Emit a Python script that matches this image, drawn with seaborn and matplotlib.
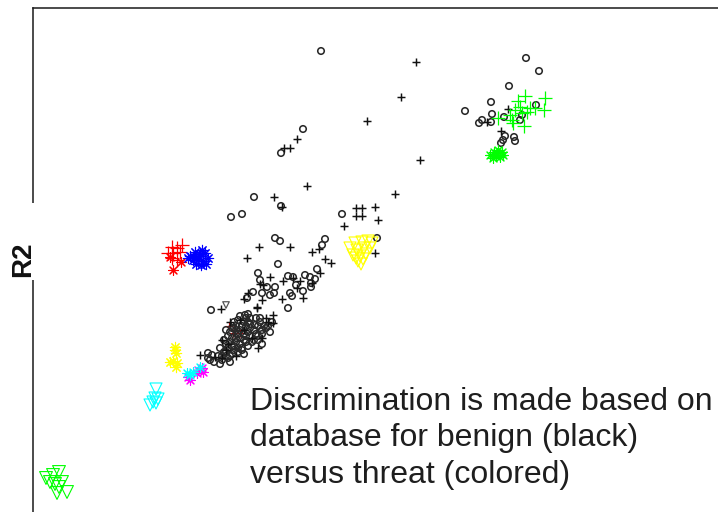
import matplotlib
matplotlib.use("Agg")
import matplotlib.pyplot as plt
from matplotlib.patches import Rectangle
import seaborn as sns
import pandas as pd

# ---- discriminant scores (R1, R2) ----
benign_circle_r1 = [2.88, 4.93, 5.06, 4.76, 4.58, 4.32, 4.59, 4.71, 4.49, 4.46, 4.58, 4.89, 4.87,
                    5.03, 4.72, 4.81, 4.82, 4.70, 4.68, 2.70, 2.48, 2.21, 1.98, 2.09, 2.48, 3.09,
                    3.44, 2.42, 2.47, 2.92, 2.89, 2.45, 2.25, 2.27, 2.84, 2.55, 2.60, 2.72, 2.77,
                    2.82, 2.63, 2.70, 2.78, 2.78, 2.34, 2.42, 2.41, 2.29, 2.20, 2.14, 2.37, 2.57,
                    2.59, 2.55, 1.78, 2.12, 2.15, 1.75, 1.79, 1.77, 1.75,
                    2.05, 2.11, 2.17, 2.22, 2.27, 1.99, 2.07, 2.15, 2.23, 2.29, 1.95, 2.03, 2.11,
                    2.19, 1.93, 2.01, 2.09, 1.91, 1.99, 1.95, 2.03, 2.13, 1.97, 2.05, 2.17, 2.33,
                    2.25, 1.89, 1.85, 2.07,
                    1.93, 2.01, 2.13, 2.23, 2.31, 2.37, 2.21, 2.13, 2.05, 1.97, 1.91, 2.07, 2.15,
                    2.03, 1.95, 1.87, 2.01, 1.93, 1.97, 1.87, 1.81, 2.11, 2.25, 2.29, 2.39, 2.17,
                    2.09, 1.99,
                    2.03, 2.11, 2.17, 2.25, 2.07, 1.99, 1.93, 2.05, 2.13, 2.21, 2.29, 2.35, 1.89,
                    1.97, 2.15, 2.27, 2.01, 2.09]
benign_circle_r2 = [4.61, 4.54, 4.41, 4.26, 4.10, 4.01, 3.98, 3.95, 3.92, 3.89, 3.90, 3.97, 3.92,
                    4.07, 3.76, 3.75, 3.71, 3.72, 3.69, 3.83, 3.59, 3.15, 2.95, 2.98, 3.06, 2.98,
                    2.74, 2.74, 2.71, 2.73, 2.67, 2.48, 2.39, 2.32, 2.43, 2.36, 2.35, 2.37, 2.35,
                    2.33, 2.27, 2.21, 2.29, 2.25, 2.25, 2.25, 2.19, 2.19, 2.20, 2.14, 2.17, 2.19,
                    2.16, 2.04, 2.02, 1.97, 1.98, 1.59, 1.57, 1.52, 1.54,
                    1.92, 1.90, 1.94, 1.87, 1.90, 1.84, 1.82, 1.80, 1.78, 1.82, 1.76, 1.74, 1.72,
                    1.70, 1.68, 1.66, 1.64, 1.60, 1.58, 1.54, 1.86, 1.86, 1.70, 1.60, 1.76, 1.84,
                    1.72, 1.52, 1.56, 1.96,
                    1.82, 1.90, 1.94, 1.94, 1.86, 1.80, 1.82, 1.76, 1.78, 1.80, 1.72, 1.68, 1.66,
                    1.70, 1.64, 1.64, 1.62, 1.56, 1.50, 1.48, 1.50, 1.58, 1.76, 1.68, 1.90, 1.88,
                    1.86, 1.74,
                    1.82, 1.78, 1.84, 1.86, 1.74, 1.66, 1.60, 1.64, 1.70, 1.72, 1.78, 1.86, 1.56,
                    1.56, 1.90, 1.94, 1.84, 1.62]

benign_plus_r1 = [3.83, 3.68, 3.34, 2.64, 2.51, 2.57, 3.87, 2.74, 3.62, 2.41, 2.49, 3.23, 3.29,
                  3.42, 3.23, 3.29, 3.45, 3.11, 3.42, 2.26, 2.57, 2.79, 2.86, 2.14, 2.92, 2.98,
                  2.87, 2.37, 2.50, 2.27, 2.30, 2.60, 2.67, 2.64, 2.15, 2.11, 2.29, 2.49, 2.70,
                  2.24, 2.79, 4.75, 4.54, 4.68, 1.88, 2.24, 2.40, 2.40, 1.67, 1.82, 1.89,
                  1.97, 2.29, 1.93, 2.35, 1.89, 2.25, 2.07, 2.19, 2.03, 1.95, 2.33, 2.11]
benign_plus_r2 = [4.50, 4.15, 3.91, 3.73, 3.64, 3.64, 3.52, 3.26, 3.18, 3.15, 3.05, 3.04, 3.04,
                  3.05, 2.96, 2.96, 2.92, 2.86, 2.59, 2.65, 2.65, 2.60, 2.63, 2.54, 2.53, 2.49,
                  2.39, 2.35, 2.31, 2.28, 2.27, 2.34, 2.31, 2.24, 2.19, 2.13, 2.12, 2.13, 2.14,
                  2.04, 2.29, 4.03, 3.90, 3.81, 2.03, 2.05, 1.97, 1.89, 1.57, 1.55, 1.54,
                  1.90, 1.74, 1.62, 1.90, 1.72, 1.64, 1.92, 1.74, 1.56, 1.68, 1.94, 1.82]

benign_tri_r1 = [1.93]
benign_tri_r2 = [2.07]

red_plus_r1 = [1.49, 1.44, 1.39, 1.35, 1.40, 1.47, 1.39, 1.44]
red_plus_r2 = [2.67, 2.64, 2.65, 2.59, 2.59, 2.60, 2.54, 2.52]
red_star_r1 = [1.48, 1.40, 1.37]
red_star_r2 = [2.50, 2.42, 2.55]
red_inner_r1 = [1.96, 2.07, 2.00]
red_inner_r2 = [1.86, 1.79, 1.79]

blue_star_r1 = [1.57, 1.62, 1.67, 1.72, 1.60, 1.65, 1.70, 1.75, 1.63, 1.68, 1.55, 1.73, 1.66, 1.61, 1.69]
blue_star_r2 = [2.56, 2.60, 2.58, 2.59, 2.52, 2.53, 2.51, 2.54, 2.48, 2.47, 2.54, 2.48, 2.56, 2.55, 2.62]

yellow_tri_r1 = [3.22, 3.29, 3.35, 3.39, 3.17, 3.24, 3.31, 3.37, 3.20, 3.27, 3.33, 3.25, 3.30, 3.28, 3.23]
yellow_tri_r2 = [2.69, 2.70, 2.71, 2.69, 2.64, 2.62, 2.64, 2.64, 2.57, 2.56, 2.58, 2.51, 2.53, 2.48, 2.54]
yellow_star_r1 = [1.42, 1.42, 1.43, 1.37, 1.44, 1.43, 1.40]
yellow_star_r2 = [1.65, 1.62, 1.59, 1.50, 1.49, 1.45, 1.51]

magenta_star_r1 = [1.65, 1.69, 1.57, 1.55, 1.70, 1.64]
magenta_star_r2 = [1.42, 1.44, 1.32, 1.35, 1.40, 1.39]

cyan_star_r1 = [1.54, 1.57, 1.60, 1.67]
cyan_star_r2 = [1.39, 1.37, 1.40, 1.45]
cyan_tri_r1 = [1.23, 1.22, 1.20, 1.17, 1.23, 1.25]
cyan_tri_r2 = [1.23, 1.14, 1.10, 1.07, 1.09, 1.13]

green_tri_r1 = [0.26, 0.20, 0.13, 0.29, 0.22, 0.26, 0.34, 0.24, 0.17]
green_tri_r2 = [0.40, 0.37, 0.34, 0.30, 0.28, 0.25, 0.20, 0.19, 0.30]
green_plus_r1 = [4.92, 4.85, 5.12, 5.11, 4.97, 4.82, 4.87, 4.77, 4.65, 4.79, 4.91, 4.80, 4.89, 4.94, 5.02]
green_plus_r2 = [4.16, 4.11, 4.14, 4.02, 4.04, 4.02, 4.05, 3.97, 3.94, 3.92, 3.86, 3.89, 3.99, 4.00, 4.04]
green_star_r1 = [4.57, 4.61, 4.65, 4.69, 4.63, 4.67, 4.60, 4.70, 4.64]
green_star_r2 = [3.57, 3.60, 3.62, 3.60, 3.56, 3.55, 3.54, 3.57, 3.59]

note = "Discrimination is made based on\ndatabase for benign (black)\nversus threat (colored)"

# ---- figure ----
sns.set_theme(style="white")
plt.rcParams["font.family"] = ["Liberation Sans", "DejaVu Sans"]

fig = plt.figure(figsize=(7.18, 5.12), dpi=100)
ax = fig.add_axes([33 / 718, 0.0, 1 - 33 / 718, 1 - 8 / 512])
ax.set_xlim(0, 6.85)
ax.set_ylim(0, 5.04)

ASTER = (8, 2, 0)


def draw(r1, r2, marker, color, s, lw=0.8, hollow=False, z=2):
    df = pd.DataFrame({"R1": r1, "R2": r2})
    if hollow:
        sns.scatterplot(data=df, x="R1", y="R2", ax=ax, marker=marker, s=s,
                        facecolor="none", edgecolor=color, linewidth=lw, zorder=z)
    else:
        sns.scatterplot(data=df, x="R1", y="R2", ax=ax, marker=marker, s=s,
                        color=color, linewidth=lw, zorder=z)


draw(red_inner_r1, red_inner_r2, "+", "#ff0000", 40, z=1)
draw(benign_circle_r1, benign_circle_r2, "o", "#2a2a2a", 22, lw=1.15, hollow=True)
draw(benign_plus_r1, benign_plus_r2, "+", "#111111", 36, lw=1.05)
draw(benign_tri_r1, benign_tri_r2, "v", "#555555", 22, lw=0.9, hollow=True)

draw(green_plus_r1, green_plus_r2, "+", "#00ff00", 95, lw=0.9)
draw(green_star_r1, green_star_r2, ASTER, "#00ff00", 50)
draw(red_plus_r1, red_plus_r2, "+", "#ff0000", 90, lw=0.9)
draw(red_star_r1, red_star_r2, ASTER, "#ff0000", 50)
draw(blue_star_r1, blue_star_r2, ASTER, "#0000ff", 55)
draw(yellow_tri_r1, yellow_tri_r2, "v", "#ffff00", 75, hollow=True)
draw(yellow_star_r1, yellow_star_r2, ASTER, "#ffff00", 55)
draw(magenta_star_r1, magenta_star_r2, ASTER, "#ff00ff", 50)
draw(cyan_star_r1, cyan_star_r2, ASTER, "#00ffff", 50)
draw(cyan_tri_r1, cyan_tri_r2, "v", "#00ffff", 75, hollow=True)
draw(green_tri_r1, green_tri_r2, "v", "#00ff00", 85, hollow=True)

ax.set_xlabel("")
ax.set_ylabel("")
ax.set_xticks([])
ax.set_yticks([])
for side in ("right", "bottom"):
    ax.spines[side].set_visible(False)
for side in ("left", "top"):
    ax.spines[side].set_color("#1a1a1a")
    ax.spines[side].set_linewidth(1.1)

# axis title sits over a break in the left axis line
fig.add_artist(Rectangle((8 / 718, 1 - 280 / 512), 40 / 718, 77 / 512,
                         transform=fig.transFigure, facecolor="white",
                         edgecolor="none", zorder=5))
fig.text(23 / 718, 1 - 259 / 512, "R2", rotation=90, ha="center", va="center",
         fontsize=20, fontweight="bold", color="#111111", zorder=6)

fig.text(250 / 718, 1 - 387 / 512, note, ha="left", va="top", fontsize=23,
         color="#1e1e1e", linespacing=1.28)

fig.savefig("out.png", dpi=100)
